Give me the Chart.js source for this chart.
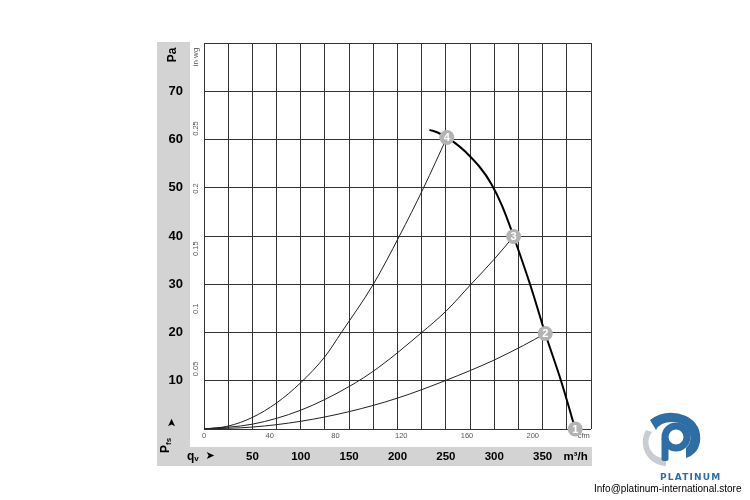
<!DOCTYPE html>
<html>
<head>
<meta charset="utf-8">
<script src="https://cdn.jsdelivr.net/npm/chart.js@4.4.1/dist/chart.umd.min.js"></script>
<style>
  body { margin: 0; background: #fff; }
  #wrap { position: relative; width: 750px; height: 500px; }
  #logo { position: absolute; left: 636px; top: 408px; }
  #brand { position: absolute; left: 660px; top: 472px; font: bold 9px 'DejaVu Sans', sans-serif; color: #2f6ea5; letter-spacing: 1.2px; }
  #mail { position: absolute; left: 594px; top: 483px; font: 10px 'Liberation Sans', Arial, sans-serif; color: #000; }
</style>
</head>
<body>
<div id="wrap">
  <canvas id="fanChart" width="750" height="500"></canvas>
  <svg id="logo" width="70" height="62" viewBox="0 0 70 62">
    <path d="M10 22 A24 24 0 0 0 30 58 L30 50 A16 16 0 0 1 16 24 Z" fill="#c9ccd0"/>
    <path d="M14 12 Q30 0 50 8 Q66 16 64 34 Q62 46 50 50 L50 40 Q56 34 54 26 Q50 14 36 14 Q24 14 20 22 Z" fill="#2f6ea5"/>
    <circle cx="40" cy="29" r="11" fill="none" stroke="#2f6ea5" stroke-width="7"/>
    <rect x="25.5" y="29" width="7" height="24" rx="2" fill="#2f6ea5"/>
  </svg>
  <div id="brand">PLATINUM</div>
  <div id="mail">Info@platinum-international.store</div>
</div>
<script>
// Kennlinie Ventilator (m³/h, Pa)
const fanFlow = [233, 242, 251, 260, 270, 285, 297, 308, 320, 337, 352.7, 369, 383.7];
const fanPressure = [62, 61.4, 60.4, 59.2, 57.5, 54.3, 50.8, 46.3, 39.9, 30, 19.8, 10, 0];

// Anlagenkennlinien
const sys4Flow = [0, 25, 50, 75, 100, 125, 142, 175, 202, 227, 251];
const sys4Pressure = [0, 0.6, 2.4, 5.4, 9.6, 15, 20, 30, 40, 50, 60.4];
const sys3Flow = [0, 50, 100, 150, 180, 225, 250, 276, 300, 320];
const sys3Pressure = [0, 1, 3.9, 8.8, 12.7, 20, 24.4, 30, 35.2, 39.9];
const sys2Flow = [0, 50, 100, 150, 200, 249, 300, 330, 352.7];
const sys2Pressure = [0, 0.4, 1.6, 3.6, 6.4, 10, 14.3, 17.3, 19.8];

// Betriebspunkte
const pointFlow = [251, 320, 352.7, 383.7];
const pointPressure = [60.4, 39.9, 19.8, 0];
const pointLabels = ['4', '3', '2', '1'];

// Achsen
const flowMax = 400;
const flowGridStep = 25;
const flowLabels = [50, 100, 150, 200, 250, 300, 350];
const flowUnitAt = 384;
const paMax = 80;
const paLabels = [10, 20, 30, 40, 50, 60, 70];
const cfmLabels = [0, 40, 80, 120, 160, 200];
const cfmUnitAt = 231;
const wgLabels = [0.05, 0.1, 0.15, 0.2, 0.25];

const FONT = "'Liberation Sans', Arial, sans-serif";

function toXY(xs, ys) {
  return xs.map((x, i) => ({ x: x, y: ys[i] }));
}

function rotText(ctx, text, x, y, font, color) {
  ctx.save();
  ctx.translate(x, y);
  ctx.rotate(-Math.PI / 2);
  ctx.font = font;
  ctx.fillStyle = color;
  ctx.textAlign = 'center';
  ctx.textBaseline = 'middle';
  ctx.fillText(text, 0, 0);
  ctx.restore();
}

const framePlugin = {
  id: 'frame',
  beforeDraw(chart) {
    const { ctx, chartArea, scales } = chart;
    const pa = scales.y, q = scales.x;
    ctx.save();
    ctx.fillStyle = '#d3d3d3';
    ctx.fillRect(pa.left, chartArea.top - 1, chartArea.right + 1 - pa.left, q.bottom - chartArea.top + 1);
    ctx.fillStyle = '#fff';
    ctx.fillRect(pa.right, chartArea.top - 1, chartArea.right + 1 - pa.right, q.top - chartArea.top + 1);
    ctx.restore();
  },
  afterDatasetsDraw(chart) {
    const ctx = chart.ctx;
    const meta = chart.getDatasetMeta(0);
    ctx.save();
    ctx.fillStyle = '#fff';
    ctx.font = 'bold 11px ' + FONT;
    ctx.textAlign = 'center';
    ctx.textBaseline = 'middle';
    meta.data.forEach((el, i) => ctx.fillText(pointLabels[i], el.x, el.y + 0.5));
    ctx.restore();
  },
  afterDraw(chart) {
    const { ctx, chartArea, scales } = chart;
    const pa = scales.y, wg = scales.wg, q = scales.x;
    const midPa = (pa.left + pa.right) / 2 - 1;
    const midWg = (wg.left + wg.right) / 2 - 1;

    rotText(ctx, 'Pa', midPa, chartArea.top + 12, 'bold 12px ' + FONT, '#000');
    rotText(ctx, 'in wg', midWg, chartArea.top + 14, '8px ' + FONT, '#555');
    wgLabels.forEach(v => rotText(ctx, String(v), midWg, wg.getPixelForValue(v), '7.5px ' + FONT, '#555'));

    // Pfs mit Pfeil
    rotText(ctx, '\u27A4', midPa, chartArea.bottom - 6, '11px DejaVu Sans', '#000');
    ctx.save();
    ctx.translate(midPa - 4, chartArea.bottom + 17);
    ctx.rotate(-Math.PI / 2);
    ctx.fillStyle = '#000';
    ctx.textBaseline = 'alphabetic';
    ctx.font = 'bold 12px ' + FONT;
    const wP = ctx.measureText('P').width;
    ctx.fillText('P', -7, 0);
    ctx.font = 'bold 8px ' + FONT;
    ctx.fillText('fs', -7 + wP, 2);
    ctx.restore();

    // qv mit Pfeil
    const midQ = (q.top + q.bottom) / 2;
    ctx.save();
    ctx.fillStyle = '#000';
    ctx.textBaseline = 'alphabetic';
    ctx.font = 'bold 12px ' + FONT;
    ctx.fillText('q', pa.right - 3, midQ + 3);
    const wq = ctx.measureText('q').width;
    ctx.font = 'bold 8px ' + FONT;
    ctx.fillText('v', pa.right - 3 + wq, midQ + 4);
    ctx.font = '11px DejaVu Sans';
    ctx.textAlign = 'center';
    ctx.textBaseline = 'middle';
    ctx.fillText('\u27A4', pa.right + 20, midQ);
    ctx.restore();
  }
};

const lineStyle = (color, width) => ({
  type: 'line',
  borderColor: color,
  borderWidth: width,
  pointRadius: 0,
  fill: false,
  cubicInterpolationMode: 'monotone',
  xAxisID: 'x',
  yAxisID: 'y'
});

new Chart(document.getElementById('fanChart'), {
  type: 'line',
  data: {
    datasets: [
      {
        type: 'scatter',
        data: toXY(pointFlow, pointPressure),
        pointRadius: 7.5,
        pointBackgroundColor: '#b3b3b3',
        pointBorderWidth: 0,
        clip: false,
        xAxisID: 'x',
        yAxisID: 'y'
      },
      Object.assign(lineStyle('#000', 2), {
        data: toXY(fanFlow, fanPressure),
        cubicInterpolationMode: 'default',
        tension: 0.4
      }),
      Object.assign(lineStyle('#222', 1), { data: toXY(sys4Flow, sys4Pressure) }),
      Object.assign(lineStyle('#222', 1), { data: toXY(sys3Flow, sys3Pressure) }),
      Object.assign(lineStyle('#222', 1), { data: toXY(sys2Flow, sys2Pressure) })
    ]
  },
  options: {
    responsive: false,
    animation: false,
    events: [],
    layout: { padding: { left: 157, right: 159, top: 43, bottom: 34 } },
    plugins: { legend: { display: false }, tooltip: { enabled: false } },
    scales: {
      x: {
        type: 'linear',
        position: 'bottom',
        weight: 1,
        min: 0,
        max: flowMax,
        afterBuildTicks: s => {
          const t = [];
          for (let v = 0; v <= flowMax; v += flowGridStep) t.push({ value: v });
          t.push({ value: flowUnitAt });
          t.sort((a, b) => a.value - b.value);
          s.ticks = t;
        },
        afterFit: s => { s.height = 19; },
        grid: {
          color: c => (c.tick && c.tick.value % flowGridStep === 0 ? '#333' : 'rgba(0,0,0,0)'),
          lineWidth: 1,
          drawTicks: false
        },
        border: { display: false },
        ticks: {
          autoSkip: false,
          maxRotation: 0,
          minRotation: 0,
          padding: 3,
          color: '#000',
          font: { family: FONT, size: 11.5, weight: 'bold' },
          callback: v => (v === flowUnitAt ? 'm³/h' : (flowLabels.includes(v) ? String(v) : ''))
        }
      },
      cfm: {
        type: 'linear',
        position: 'bottom',
        weight: 0,
        min: 0,
        max: flowMax / 1.69901,
        afterBuildTicks: s => {
          s.ticks = cfmLabels.map(v => ({ value: v })).concat([{ value: cfmUnitAt }]);
        },
        afterFit: s => { s.height = 18; },
        grid: { display: false, drawTicks: false },
        border: { display: false },
        ticks: {
          autoSkip: false,
          maxRotation: 0,
          minRotation: 0,
          padding: 2,
          color: '#555',
          font: { family: FONT, size: 7.5 },
          callback: v => (v === cfmUnitAt ? 'cfm' : String(v))
        }
      },
      y: {
        type: 'linear',
        position: 'left',
        weight: 1,
        min: 0,
        max: paMax,
        afterFit: s => { s.width = 33; },
        grid: { color: '#333', lineWidth: 1, drawTicks: false },
        border: { display: false },
        ticks: {
          stepSize: 10,
          padding: 7,
          color: '#000',
          font: { family: FONT, size: 13, weight: 'bold' },
          callback: v => (paLabels.includes(v) ? String(v) : '')
        }
      },
      wg: {
        type: 'linear',
        position: 'left',
        weight: 0,
        min: 0,
        max: paMax / 249.089,
        afterFit: s => { s.width = 14; },
        grid: { display: false, drawTicks: false },
        border: { display: false },
        ticks: { display: false }
      }
    }
  },
  plugins: [framePlugin]
});
</script>
</body>
</html>
